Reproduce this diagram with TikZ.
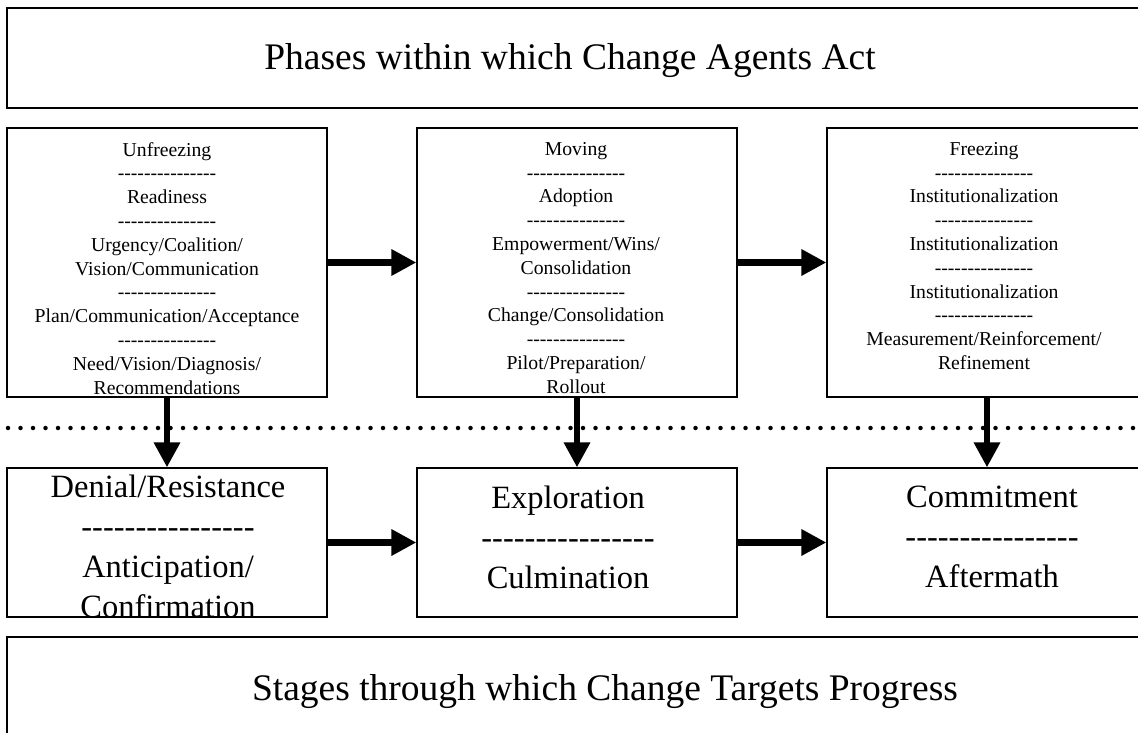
\documentclass[tikz,border=0pt]{standalone}
\usepackage{fontspec}
\setmainfont{Liberation Serif}
\usetikzlibrary{arrows.meta}
\newcommand\hyrow[1]{\foreach\k in {1,...,#1}{-\kern0pt}}
\begin{document}
\begin{tikzpicture}[x=1pt,y=-1pt,
  box/.style={draw=black, line width=1.2pt, inner sep=0pt},
  small/.style={font=\fontsize{19.7}{23.8}\selectfont, align=center, inner sep=0pt, anchor=north},
  big/.style={font=\fontsize{32.5}{40}\selectfont, align=center, inner sep=0pt, anchor=north},
  titletext/.style={font=\fontsize{37.5}{45}\selectfont, inner sep=0pt, anchor=base},
  flow/.style={line width=6.5pt, -{Triangle[length=25pt,width=25pt]}},
  dotline/.style={line width=4.5pt, line cap=round, dash pattern=on 0pt off 12.5pt},
]
\path[use as bounding box] (0,0) rectangle (1138,733);
\clip (0,0) rectangle (1138,733);

% frames
\node[box, minimum width=1200pt, minimum height=100pt] (topframe) at (607,58) {};
\node[titletext] (toptitle) at (570,70) {Phases within which Change Agents Act};
\node[box, minimum width=1200pt, minimum height=100pt] (botframe) at (607,687) {};
\node[titletext] (bottitle) at (605,700) {Stages through which Change Targets Progress};

% dotted separator
\coordinate (dl) at (8,428);
\coordinate (dr) at (1140,428);
\draw[dotline] (dl) -- (dr);

% phase boxes
\node[box, minimum width=320pt, minimum height=269pt] (unf) at (167,262.5) {};
\node[small] (unft) at (167,142) {Unfreezing\\\hyrow{15}\\Readiness\\\hyrow{15}\\Urgency/Coalition/\\Vision/Communication\\\hyrow{15}\\Plan/Communication/Acceptance\\\hyrow{15}\\Need/Vision/Diagnosis/\\Recommendations};

\node[box, minimum width=320pt, minimum height=269pt] (mov) at (577,262.5) {};
\node[small] (movt) at (576,142) {Moving\\\hyrow{15}\\Adoption\\\hyrow{15}\\Empowerment/Wins/\\Consolidation\\\hyrow{15}\\Change/Consolidation\\\hyrow{15}\\Pilot/Preparation/\\Rollout};

\node[box, minimum width=320pt, minimum height=269pt] (frz) at (987,262.5) {};
\node[small] (frzt) at (984,142) {Freezing\\\hyrow{15}\\Institutionalization\\\hyrow{15}\\Institutionalization\\\hyrow{15}\\Institutionalization\\\hyrow{15}\\Measurement/Reinforcement/\\Refinement};

% stage boxes
\node[box, minimum width=320pt, minimum height=149pt] (den) at (167,542.5) {};
\node[big] (dent) at (168,475) {Denial/Resistance\\\hyrow{16}\\Anticipation/\\Confirmation};

\node[box, minimum width=320pt, minimum height=149pt] (exp) at (577,542.5) {};
\node[big] (expt) at (568,486) {Exploration\\\hyrow{16}\\Culmination};

\node[box, minimum width=320pt, minimum height=149pt] (com) at (987,542.5) {};
\node[big] (comt) at (992,486) {Commitment\\\hyrow{16}\\Aftermath};

% connectors
\draw[flow] (unf.east) -- (mov.west);
\draw[flow] (mov.east) -- (frz.west);
\draw[flow] (den.east) -- (exp.west);
\draw[flow] (exp.east) -- (com.west);
\draw[flow] (unf.south) -- (den.north);
\draw[flow] (mov.south) -- (exp.north);
\draw[flow] (frz.south) -- (com.north);
\end{tikzpicture}
\end{document}
